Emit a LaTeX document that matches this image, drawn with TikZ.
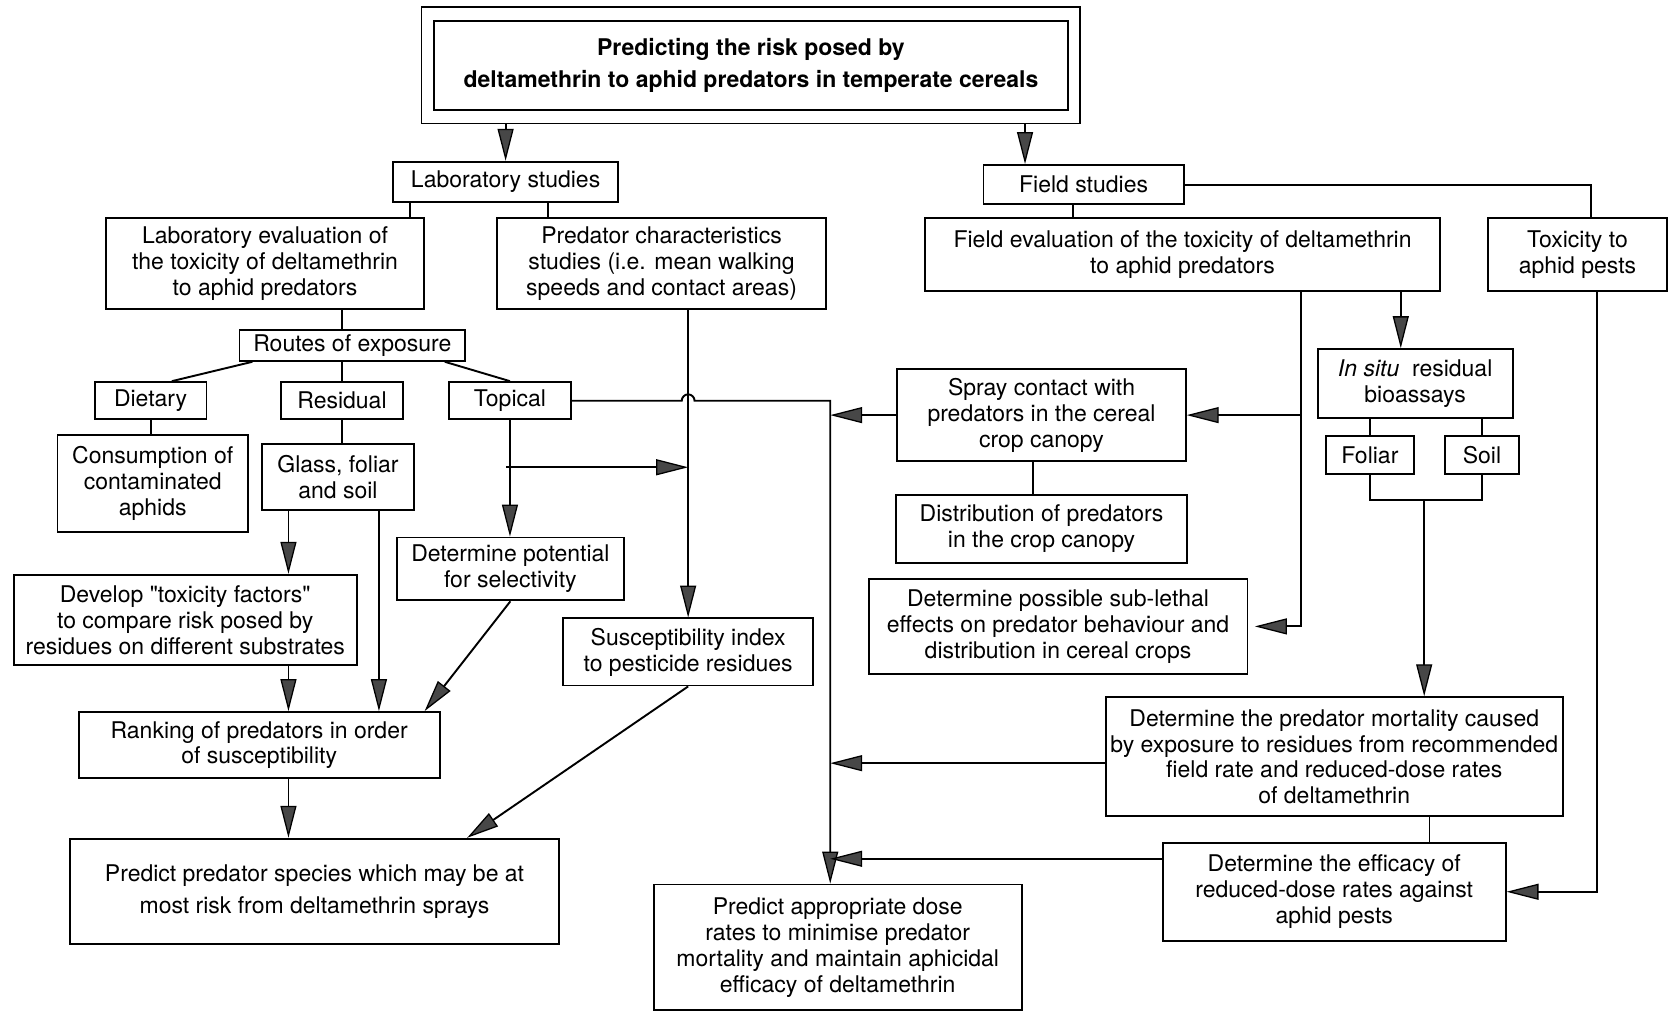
\documentclass[tikz,border=0pt]{standalone}
\usepackage{fontspec}
\setmainfont{TeX Gyre Heros}
\usetikzlibrary{positioning,arrows.meta}

\begin{document}
\begin{tikzpicture}[x=0.5pt, y=-0.5pt,
    font=\fontsize{10.8}{12.2}\selectfont,
    box/.style={draw, line width=0.9pt, align=center, inner sep=0pt},
    link/.style={line width=0.9pt},
    arr/.style={line width=0.9pt, -{Triangle[length=15pt, width=7.5pt, line width=0.6pt, fill=black!72]}}]
  \useasboundingbox (0,0) rectangle (1568,951);

  % title
  \node [box, minimum width=309.5pt, minimum height=54.5pt] (titleframe) at (705.5,61.5) {};
  \node [box, minimum width=297.5pt, minimum height=41.75pt, font=\fontsize{10.8}{12.2}\selectfont\bfseries] (title) at (705.5,61.25) {Predicting the risk posed by\\[2.8pt]deltamethrin to aphid predators in temperate cereals};

  % laboratory side
  \node [box, minimum width=106pt, minimum height=19pt] (labstudies) at (475,171) {Laboratory studies};
  \node [box, minimum width=149pt, minimum height=42.5pt] (labeval) at (249,247.5) {Laboratory evaluation of\\the toxicity of deltamethrin\\to aphid predators};
  \node [box, minimum width=154.5pt, minimum height=42.5pt] (predchar) at (621.5,247.5) {Predator characteristics\\studies (i.e. mean walking\\speeds and contact areas)};
  \node [box, minimum width=106pt, minimum height=14.5pt] (routes) at (331,324.5) {Routes of exposure};
  \node [box, minimum width=52.5pt, minimum height=17.5pt] (dietary) at (141.5,376.5) {Dietary};
  \node [box, minimum width=57.5pt, minimum height=17.5pt, right=34pt of dietary] (residual) {Residual};
  \node [box, minimum width=57.5pt, minimum height=17.5pt, right=20.5pt of residual] (topical) {Topical};
  \node [box, minimum width=89.5pt, minimum height=45.5pt] (consumption) at (143.5,454.5) {Consumption of\\contaminated\\aphids};
  \node [box, minimum width=71.5pt, minimum height=31pt] (glass) at (317.5,448) {Glass, foliar\\and soil};
  \node [box, minimum width=106.5pt, minimum height=29.5pt] (potential) at (479.5,534.5) {Determine potential\\for selectivity};
  \node [box, minimum width=161pt, minimum height=42.5pt] (develop) at (174,582.5) {Develop \textquotedbl toxicity factors\textquotedbl\\to compare risk posed by\\residues on different substrates};
  \node [box, minimum width=117.5pt, minimum height=31.5pt] (suscept) at (646.5,612.5) {Susceptibility index\\to pesticide residues};
  \node [box, minimum width=169.5pt, minimum height=31pt] (ranking) at (243.5,700) {Ranking of predators in order\\of susceptibility};
  \node [box, minimum width=229.5pt, minimum height=49.5pt] (predspecies) at (295.5,837.5) {Predict predator species which may be at\\[2.8pt]most risk from deltamethrin sprays};
  \node [box, minimum width=173pt, minimum height=59pt] (preddose) at (787,890) {Predict appropriate dose\\rates to minimise predator\\mortality and maintain aphicidal\\efficacy of deltamethrin};

  % field side
  \node [box, minimum width=94pt, minimum height=18.5pt] (fieldstudies) at (1018,173.5) {Field studies};
  \node [box, minimum width=242pt, minimum height=34pt] (fieldeval) at (1111,239) {Field evaluation of the toxicity of deltamethrin\\to aphid predators};
  \node [box, minimum width=84pt, minimum height=34pt] (toxicity) at (1482,239) {Toxicity to\\aphid pests};
  \node [box, minimum width=135.5pt, minimum height=43pt] (spray) at (978.5,390) {Spray contact with\\predators in the cereal\\crop canopy};
  \node [box, minimum width=136.5pt, minimum height=32pt, below=15pt of spray] (distribution) {Distribution of predators\\in the crop canopy};
  \node [box, minimum width=178pt, minimum height=44.5pt] (sublethal) at (994,588.5) {Determine possible sub-lethal\\effects on predator behaviour and\\distribution in cereal crops};
  \node [box, minimum width=91.5pt, minimum height=32.5pt] (insitu) at (1329.5,360.5) {\textit{In situ}\ \ residual\\bioassays};
  \node [box, minimum width=41pt, minimum height=17.5pt] (foliar) at (1287,427.5) {Foliar};
  \node [box, minimum width=34.5pt, minimum height=17.5pt, right=14pt of foliar] (soil) {Soil};
  \node [box, minimum width=214.5pt, minimum height=56pt] (mortality) at (1253.5,711) {Determine the predator mortality caused\\by exposure to residues from recommended\\field rate and reduced-dose rates\\of deltamethrin};
  \node [box, minimum width=161pt, minimum height=46pt, below=11.5pt of mortality] (efficacy) {Determine the efficacy of\\reduced-dose rates against\\aphid pests};

  % turning points
  \coordinate (tf) at (963,0);
  \coordinate (ll) at (385,0);
  \coordinate (lr) at (515,0);
  \coordinate (fe) at (1008,0);
  \coordinate (ft) at (1495,0);
  \coordinate (gd) at (271,0);
  \coordinate (gr) at (356,0);
  \coordinate (tb) at (475.5,439);
  \coordinate (hop) at (suscept.north |- topical.east);
  \coordinate (drop) at (780,376.5);
  \coordinate (fr) at (1222,0);
  \coordinate (fi) at (1316,0);
  \coordinate (fsjoin) at (1338,470);
  \coordinate (me) at (1343,0);
  \coordinate (tx) at (1500,0);

  % laboratory connectors
  \draw[arr] (titleframe.south -| labstudies.north) -- (labstudies.north);
  \draw[link] (labstudies.south -| ll) -- (labeval.north -| ll);
  \draw[link] (labstudies.south -| lr) -- (predchar.north -| lr);
  \draw[link] (labeval.south -| residual.north) -- (routes.north -| residual.north);
  \draw[link] ([xshift=6.5pt]routes.south west) -- ([xshift=10pt]dietary.north);
  \draw[link] (routes.south -| residual.north) -- (residual.north);
  \draw[link] ([xshift=-10pt]routes.south east) -- (topical.north);
  \draw[link] (dietary.south) -- (consumption.north -| dietary.south);
  \draw[link] (residual.south) -- (glass.north -| residual.south);
  \draw[arr] (glass.south -| gd) -- (develop.north -| gd);
  \draw[arr] (develop.south -| gd) -- (ranking.north -| gd);
  \draw[arr] (glass.south -| gr) -- (ranking.north -| gr);
  \draw[arr] (ranking.south -| gd) -- (predspecies.north -| gd);
  \draw[arr] (topical.south) -- (potential.north -| topical.south);
  \draw[arr] (tb) -- (tb -| suscept.north);
  \draw[arr] (potential.south) -- ([xshift=-7.5pt]ranking.north east);
  \draw[arr] (predchar.south -| suscept.north) -- (suscept.north);
  \draw[arr] (suscept.south) -- ([xshift=-43.5pt]predspecies.north east);
  \draw[arr] (topical.east) -- ([xshift=-3pt]hop) arc[start angle=180, end angle=0, radius=3pt] -- (drop) -- (drop |- preddose.north);

  % field connectors
  \draw[arr] (titleframe.south -| tf) -- (fieldstudies.north -| tf);
  \draw[link] (fieldstudies.south -| fe) -- (fieldeval.north -| fe);
  \draw[link] (fieldstudies.east) -| (toxicity.north -| ft);
  \draw[arr] (fieldeval.south -| fr) -- (sublethal.east -| fr) -- ([xshift=3pt]sublethal.east);
  \draw[arr] (spray.east -| fr) -- (spray.east);
  \draw[arr] (spray.west) -- (spray.west -| drop);
  \draw[link] ([xshift=-4pt]spray.south) -- ([xshift=-4pt]distribution.north);
  \draw[arr] (fieldeval.south -| fi) -- (insitu.north -| fi);
  \draw[link] (insitu.south -| foliar.north) -- (foliar.north);
  \draw[link] (insitu.south -| soil.north) -- (soil.north);
  \draw[link] (foliar.south) |- (fsjoin) -| (soil.south);
  \draw[arr] (fsjoin) -- (fsjoin |- mortality.north);
  \draw[arr] ([yshift=-3pt]mortality.west) -- ([yshift=-3pt]mortality.west -| drop);
  \draw[link] (mortality.south -| me) -- (efficacy.north -| me);
  \draw[arr] ([yshift=15.5pt]efficacy.west) -- ([yshift=15.5pt]efficacy.west -| drop);
  \draw[arr] (toxicity.south -| tx) -- (efficacy.east -| tx) -- (efficacy.east);
\end{tikzpicture}
\end{document}
